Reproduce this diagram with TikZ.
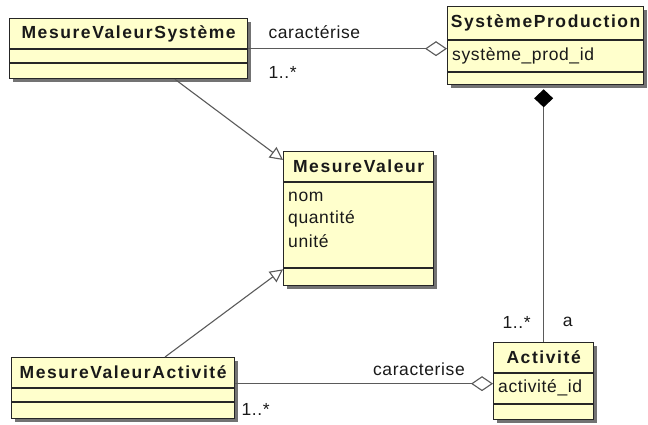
\documentclass[tikz,border=0pt]{standalone}
\usepackage{fontspec}
\setmainfont{Liberation Sans}[LetterSpace=3.5,BoldFeatures={LetterSpace=9}]
\usetikzlibrary{calc,arrows.meta,shadows}
\definecolor{umlfill}{RGB}{255,255,204}
\definecolor{umlline}{RGB}{90,90,90}

\begin{document}
\begin{tikzpicture}[x=1pt,y=-1pt,
  cls/.style={draw=black!85,line width=1.3pt,fill=umlfill,anchor=north west,inner sep=0pt,
    drop shadow={shadow xshift=3pt,shadow yshift=-3pt,fill=black!55,opacity=1}},
  sep/.style={draw=black!85,line width=1.1pt},
  ttl/.style={font=\fontsize{17.5}{20}\selectfont\bfseries,text=black!90,inner sep=0pt},
  att/.style={font=\fontsize{17.5}{20}\selectfont,text=black!90,anchor=west,inner sep=0pt},
  lbl/.style={font=\fontsize{17.5}{20}\selectfont,text=black!90,inner sep=0pt},
  conn/.style={draw=umlline,line width=1.1pt},
  aggr/.style={conn,-{Diamond[fill=white,length=22pt,width=15pt]}},
  compo/.style={conn,-{Diamond[black,fill=black,length=18pt,width=19pt]}},
  gen/.style={conn,-{Triangle[fill=white,length=13pt,width=13pt]}}]
\useasboundingbox (0,0) rectangle (648,424);

% classes
\node[cls,minimum width=238pt,minimum height=60pt] (mvs) at (9,18) {};
\node[ttl] (mvs-t) at ($(mvs.north)+(0,15.5)$) {MesureValeurSystème};
\draw[sep] ($(mvs.north west)+(0,31)$) -- ($(mvs.north east)+(0,31)$);
\draw[sep] ($(mvs.north west)+(0,45)$) -- ($(mvs.north east)+(0,45)$);

\node[cls,minimum width=196pt,minimum height=78pt] (sp) at (447,6) {};
\node[ttl] (sp-t) at ($(sp.north)+(0,17)$) {SystèmeProduction};
\draw[sep] ($(sp.north west)+(0,34)$) -- ($(sp.north east)+(0,34)$);
\draw[sep] ($(sp.north west)+(0,66)$) -- ($(sp.north east)+(0,66)$);
\node[att] (sp-id) at ($(sp.north west)+(5,50)$) {système\_prod\_id};

\node[cls,minimum width=150pt,minimum height=134pt] (mv) at (283,151) {};
\node[ttl] (mv-t) at ($(mv.north)+(0,15.5)$) {MesureValeur};
\draw[sep] ($(mv.north west)+(0,31)$) -- ($(mv.north east)+(0,31)$);
\draw[sep] ($(mv.north west)+(0,117)$) -- ($(mv.north east)+(0,117)$);
\node[att] (mv-nom) at ($(mv.north west)+(5,46)$) {nom};
\node[att] (mv-qte) at ($(mv.north west)+(5,68)$) {quantité};
\node[att] (mv-unite) at ($(mv.north west)+(5,90)$) {unité};

\node[cls,minimum width=223pt,minimum height=61pt] (mva) at (11,357) {};
\node[ttl] (mva-t) at ($(mva.north)+(0,15.5)$) {MesureValeurActivité};
\draw[sep] ($(mva.north west)+(0,31)$) -- ($(mva.north east)+(0,31)$);
\draw[sep] ($(mva.north west)+(0,45)$) -- ($(mva.north east)+(0,45)$);

\node[cls,minimum width=100pt,minimum height=77pt] (act) at (493,342) {};
\node[ttl] (act-t) at ($(act.north)+(0,15.5)$) {Activité};
\draw[sep] ($(act.north west)+(0,31)$) -- ($(act.north east)+(0,31)$);
\draw[sep] ($(act.north west)+(0,62)$) -- ($(act.north east)+(0,62)$);
\node[att] (act-id) at ($(act.north west)+(5,46)$) {activité\_id};

% associations
\draw[aggr] (mvs.east) -- (mvs.east -| sp.west);
\node[lbl,anchor=west] (car1) at ($(mvs.east)+(20,-17)$) {caractérise};
\node[lbl,anchor=west] (m1) at ($(mvs.east)+(20,24)$) {1..*};

\draw[compo] (act.north) -- ($(act.north |- sp.south)+(0,4)$);
\node[lbl] (m2) at ($(act.north)+(-27,-20)$) {1..*};
\node[lbl] (ra) at ($(act.north)+(24,-20)$) {a};

\coordinate (a2) at ($(mva.east)+(0,-4.5)$);
\draw[aggr] (a2) -- (a2 -| act.west);
\node[lbl,anchor=east] (car2) at ($(act.west)+(-28,-12)$) {caracterise};
\node[lbl,anchor=west] (m3) at ($(mva.east)+(6,21)$) {1..*};

% generalisations
\draw[gen] ($(mvs.south west)+(166,0)$) -- ($(mv.north west)+(0,9)$);
\draw[gen] ($(mva.north west)+(154,0)$) -- ($(mv.south west)+(0,-17)$);
\end{tikzpicture}
\end{document}
